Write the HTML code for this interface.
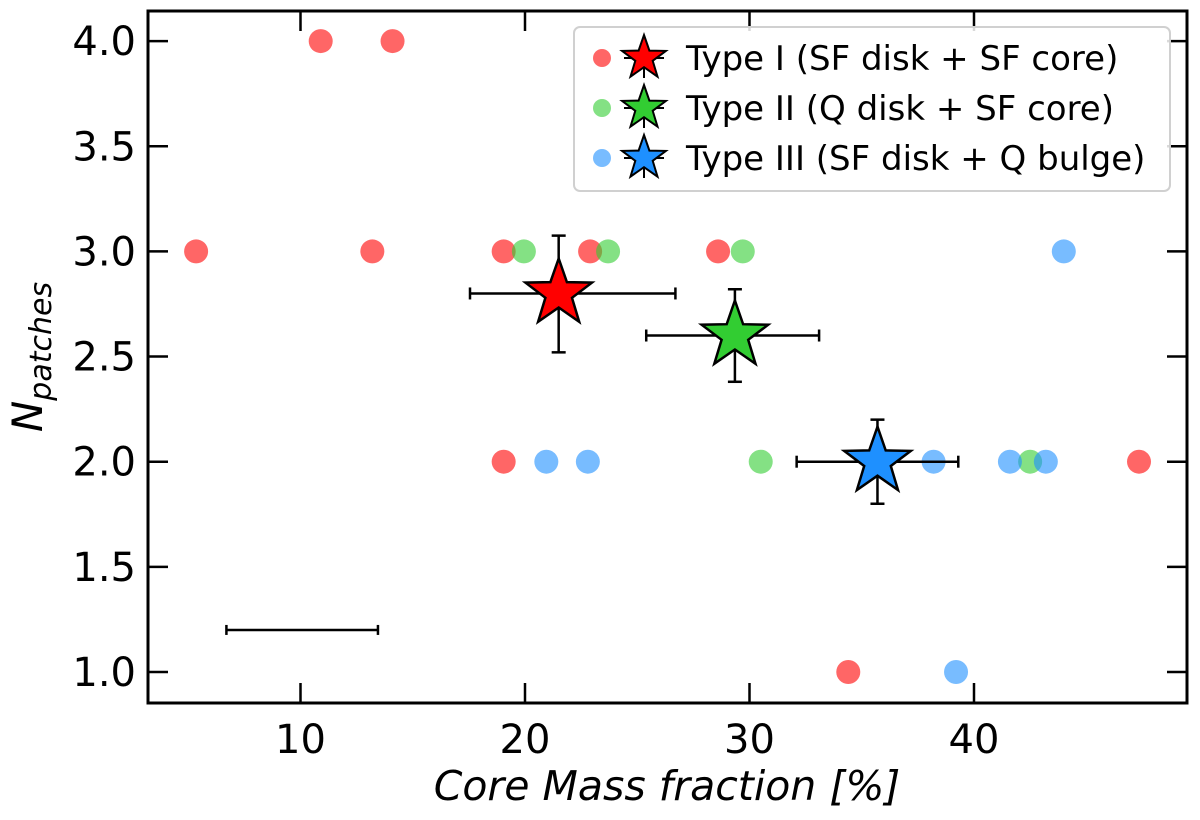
<!DOCTYPE html>
<html><head><meta charset="utf-8"><style>body{margin:0;background:#fff}svg{display:block}text{font-family:"DejaVu Sans","Liberation Sans",sans-serif}</style></head>
<body>
<svg id="c" width="1200" height="820"></svg>
<script>
const xTicks=[10,20,30,40];
const yTicks=[1.0,1.5,2.0,2.5,3.0,3.5,4.0];
const redX=[5.35,10.9,14.1,13.2,19.05,22.9,28.6,19.05,34.4,47.35];
const redY=[3,4,4,3,3,3,3,2,1,2];
const greenX=[19.95,23.7,29.7,30.5,42.5];
const greenY=[3,3,3,2,2];
const blueX=[44.0,20.95,22.8,38.2,41.6,43.2,39.2];
const blueY=[3,2,2,2,2,2,1];
const starX=[21.5,29.35,35.7];
const starY=[2.8,2.6,2.0];
const starXLo=[17.55,25.4,32.1];
const starXHi=[26.7,33.1,39.3];
const starYLo=[2.52,2.38,1.8];
const starYHi=[3.075,2.82,2.2];
const starColors=["#ff0000","#32cd32","#1e90ff"];
const refX=10, refY=1.2, refLo=6.7, refHi=13.45;
const legendLabels=["Type I (SF disk + SF core)","Type II (Q disk + SF core)","Type III (SF disk + Q bulge)"];

const L=148,R=1187,T=11,B=703;
const X=v=>76+v*22.45;
const Y=v=>672-(v-1)*210.3;
const svg=document.getElementById('c');
const NS='http://www.w3.org/2000/svg';
function mk(tag,attrs,parent){const e=document.createElementNS(NS,tag);for(const k in attrs)e.setAttribute(k,attrs[k]);(parent||svg).appendChild(e);return e;}
function txt(s,attrs){const e=mk('text',attrs);e.textContent=s;return e;}
function starPts(cx,cy,r){let p=[];for(let i=0;i<10;i++){const a=-Math.PI/2+i*Math.PI/5;const rr=i%2?r*0.4:r;p.push((cx+rr*Math.cos(a)).toFixed(1)+','+(cy+rr*Math.sin(a)).toFixed(1));}return p.join(' ');}

function dots(xs,ys,col,name){xs.forEach((x,i)=>{const c=mk('circle',{cx:X(x),cy:Y(ys[i]),r:12,fill:col,'fill-opacity':0.6});

});}
dots(redX,redY,'#ff0000','type1');
dots(greenX,greenY,'#32cd32','type2');
dots(blueX,blueY,'#1e90ff','type3');

const rg=mk('g',{stroke:'#000','stroke-width':2.5});


mk('line',{x1:X(refLo),x2:X(refHi),y1:Y(refY),y2:Y(refY)},rg);
mk('line',{x1:X(refLo),x2:X(refLo),y1:Y(refY)-5,y2:Y(refY)+5},rg);
mk('line',{x1:X(refHi),x2:X(refHi),y1:Y(refY)-5,y2:Y(refY)+5},rg);

starX.forEach((sx,i)=>{
 const g=mk('g',{});
 
 
 const s={stroke:'#000','stroke-width':2.5};
 mk('line',Object.assign({x1:X(starXLo[i]),x2:X(starXHi[i]),y1:Y(starY[i]),y2:Y(starY[i])},s),g);
 mk('line',Object.assign({x1:X(starXLo[i]),x2:X(starXLo[i]),y1:Y(starY[i])-6,y2:Y(starY[i])+6},s),g);
 mk('line',Object.assign({x1:X(starXHi[i]),x2:X(starXHi[i]),y1:Y(starY[i])-6,y2:Y(starY[i])+6},s),g);
 mk('line',Object.assign({x1:X(sx),x2:X(sx),y1:Y(starYLo[i]),y2:Y(starYHi[i])},s),g);
 mk('line',Object.assign({x1:X(sx)-7,x2:X(sx)+7,y1:Y(starYLo[i]),y2:Y(starYLo[i])},s),g);
 mk('line',Object.assign({x1:X(sx)-7,x2:X(sx)+7,y1:Y(starYHi[i]),y2:Y(starYHi[i])},s),g);
 mk('polygon',{points:starPts(X(sx),Y(starY[i]),35),fill:starColors[i],stroke:'#000','stroke-width':2.5},g);
});

const fr=mk('rect',{x:L,y:T,width:R-L,height:B-T,fill:'none',stroke:'#000','stroke-width':3});


xTicks.forEach(v=>{
 mk('line',{x1:X(v),x2:X(v),y1:B,y2:B-20,stroke:'#000','stroke-width':2.5});
 mk('line',{x1:X(v),x2:X(v),y1:T,y2:T+20,stroke:'#000','stroke-width':2.5});
 const t=txt(String(v),{x:X(v),y:B+50,'font-size':40,'text-anchor':'middle'});
 
 
});
yTicks.forEach(v=>{
 mk('line',{x1:L,x2:L+20,y1:Y(v),y2:Y(v),stroke:'#000','stroke-width':2.5});
 mk('line',{x1:R,x2:R-20,y1:Y(v),y2:Y(v),stroke:'#000','stroke-width':2.5});
 const t=txt(v.toFixed(1),{x:L-12,y:Y(v)+14,'font-size':40,'text-anchor':'end'});
 
 
});
const xl=txt('Core Mass fraction [%]',{x:667,y:800,'font-size':41,'text-anchor':'middle','font-style':'italic'});


const yl=mk('text',{transform:'translate(42,357) rotate(-90)','font-size':42,'text-anchor':'middle','font-style':'italic'});
yl.innerHTML='N<tspan font-size="30" dy="9">patches</tspan>';



const lg=mk('g',{});


mk('rect',{x:574,y:27,width:596,height:164,rx:6,fill:'#fff','fill-opacity':0.85,stroke:'#d0d0d0','stroke-width':2},lg);
legendLabels.forEach((s,i)=>{
 const y=58+i*50;
 const e=mk('g',{},lg);
 
 
 mk('circle',{cx:602,cy:y,r:9,fill:starColors[i],'fill-opacity':0.6},e);
 mk('line',{x1:644,x2:644,y1:y-20,y2:y+20,stroke:'#000','stroke-width':2},e);
 mk('line',{x1:624,x2:664,y1:y,y2:y,stroke:'#000','stroke-width':2},e);
 mk('polygon',{points:starPts(644,y,23),fill:starColors[i],stroke:'#000','stroke-width':2},e);
 const t=mk('text',{x:686,y:y+12,'font-size':34},e);t.textContent=s;
});
</script>
</body></html>
